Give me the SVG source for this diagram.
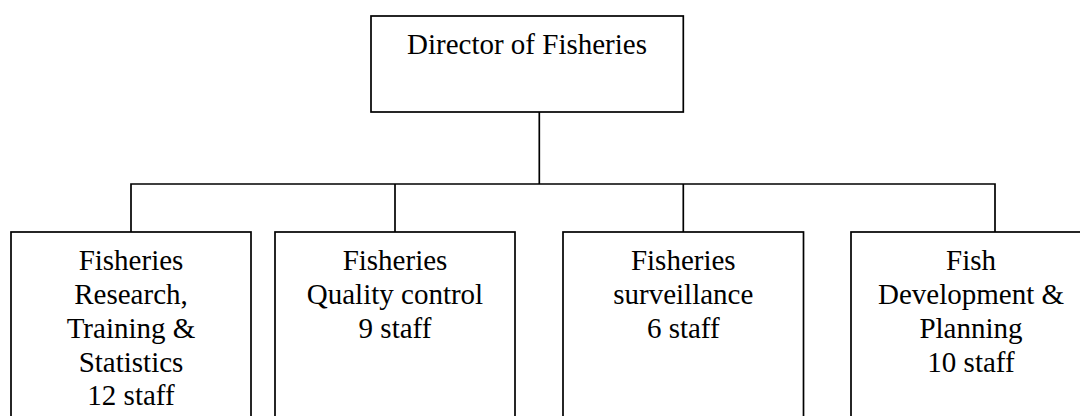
<svg xmlns="http://www.w3.org/2000/svg" width="1080" height="416" viewBox="0 0 1080 416">
  <style>
    .box { fill: #ffffff; stroke: #000000; stroke-width: 1.7; }
    .link { fill: none; stroke: #000000; stroke-width: 1.7; }
    .label { font-size: 29px; fill: #000000; text-anchor: middle; }
  </style>
  <rect width="1080" height="416" fill="#ffffff"/>

  <!-- connectors -->
  <g id="connectors">
    <path class="link" d="M539.3,112 V184"/>
    <path class="link" d="M131,232 V184 H995 V232"/>
    <path class="link" d="M395,184 V232"/>
    <path class="link" d="M683.3,184 V232"/>
  </g>

  <g font-family="Liberation Serif, Times New Roman, DejaVu Serif, serif">
    <g id="director">
      <rect class="box" x="371" y="16" width="312.3" height="96"/>
      <text class="label" x="527" y="54">Director of Fisheries</text>
    </g>

    <g id="research">
      <rect class="box" x="11" y="232" width="240" height="200"/>
      <text class="label" x="131" y="270">Fisheries</text>
      <text class="label" x="131" y="304">Research,</text>
      <text class="label" x="131" y="337.5">Training &amp;</text>
      <text class="label" x="131" y="371.5">Statistics</text>
      <text class="label" x="131" y="405">12 staff</text>
    </g>

    <g id="quality">
      <rect class="box" x="275" y="232" width="240" height="200"/>
      <text class="label" x="395" y="270">Fisheries</text>
      <text class="label" x="395" y="304">Quality control</text>
      <text class="label" x="395" y="337.5">9 staff</text>
    </g>

    <g id="surveillance">
      <rect class="box" x="563" y="232" width="240.5" height="200"/>
      <text class="label" x="683.3" y="270">Fisheries</text>
      <text class="label" x="683.3" y="304">surveillance</text>
      <text class="label" x="683.3" y="337.5">6 staff</text>
    </g>

    <g id="development">
      <rect class="box" x="851" y="232" width="240" height="200"/>
      <text class="label" x="971" y="270">Fish</text>
      <text class="label" x="971" y="304">Development &amp;</text>
      <text class="label" x="971" y="337.5">Planning</text>
      <text class="label" x="971" y="371.5">10 staff</text>
    </g>
  </g>
</svg>
